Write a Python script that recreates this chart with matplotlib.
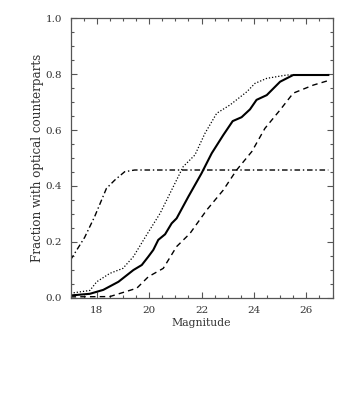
import matplotlib
matplotlib.use("Agg")
import matplotlib.pyplot as plt
from matplotlib.ticker import MultipleLocator, FormatStrFormatter

# solid curve
mag_solid = [17.0, 17.74, 18.25, 18.83, 19.4, 19.72, 19.97, 20.16, 20.35, 20.61, 20.86,
             21.05, 21.5, 22.0, 22.39, 22.83, 23.19, 23.53, 23.85, 24.1, 24.49, 25.0, 25.5, 26.84]
frac_solid = [0.008, 0.014, 0.028, 0.057, 0.099, 0.117, 0.147, 0.171, 0.207, 0.227, 0.266,
              0.284, 0.362, 0.445, 0.517, 0.582, 0.632, 0.646, 0.674, 0.708, 0.725, 0.773, 0.797, 0.797]

# dotted curve
mag_dot = [17.0, 17.74, 18.0, 18.5, 19.0, 19.4, 19.9, 20.42, 20.8, 21.3, 21.75, 22.13,
           22.58, 23.09, 23.73, 24.04, 24.49, 25.25, 26.84]
frac_dot = [0.016, 0.026, 0.057, 0.087, 0.105, 0.147, 0.224, 0.302, 0.374, 0.469, 0.511, 0.588,
            0.66, 0.69, 0.737, 0.767, 0.785, 0.797, 0.797]

# dashed curve
mag_dash = [17.0, 18.5, 19.53, 19.97, 20.54, 21.05, 21.56, 22.2, 22.83, 23.34, 23.92,
            24.42, 25.0, 25.5, 26.27, 26.84]
frac_dash = [0.003, 0.004, 0.034, 0.075, 0.105, 0.183, 0.23, 0.314, 0.385, 0.457, 0.523,
             0.606, 0.672, 0.732, 0.761, 0.777]

# dash-dot curve
mag_dd = [17.0, 17.54, 17.92, 18.37, 18.69, 19.07, 19.45, 26.84]
frac_dd = [0.135, 0.216, 0.29, 0.391, 0.421, 0.451, 0.457, 0.457]

plt.rcParams['font.family'] = ['DejaVu Serif']
grey = '#555555'

fig = plt.figure(figsize=(3.51, 4.01), dpi=100)
ax = fig.add_axes([0.2009, 0.2576, 0.7464, 0.6968])

ax.plot(mag_solid, frac_solid, color='black', linewidth=1.5, linestyle='-')
ax.plot(mag_dot, frac_dot, color='black', linewidth=0.9, linestyle=(0, (1, 1.5)))
ax.plot(mag_dash, frac_dash, color='black', linewidth=1.0, linestyle=(0, (4, 3)))
ax.plot(mag_dd, frac_dd, color='black', linewidth=1.0, linestyle=(0, (4, 2, 1, 2)))

ax.set_xlim(17, 27)
ax.set_ylim(0, 1.0)
ax.xaxis.set_major_locator(MultipleLocator(2))
ax.xaxis.set_minor_locator(MultipleLocator(0.5))
ax.yaxis.set_major_locator(MultipleLocator(0.2))
ax.yaxis.set_minor_locator(MultipleLocator(0.05))
ax.yaxis.set_major_formatter(FormatStrFormatter('%.1f'))

ax.tick_params(which='both', direction='in', top=True, right=True, colors=grey,
               labelsize=7.5, labelcolor='#333333')
ax.tick_params(which='major', length=4.2, width=0.8, pad=6)
ax.tick_params(which='minor', length=2.2, width=0.8)
for s in ax.spines.values():
    s.set_color(grey)
    s.set_linewidth(0.9)

ax.set_xlabel("Magnitude", fontsize=7.8, color='#333333', labelpad=2)
ax.set_ylabel("Fraction with optical counterparts", fontsize=8.6, color='#333333', labelpad=1.5)

plt.savefig("out.png", dpi=100)
